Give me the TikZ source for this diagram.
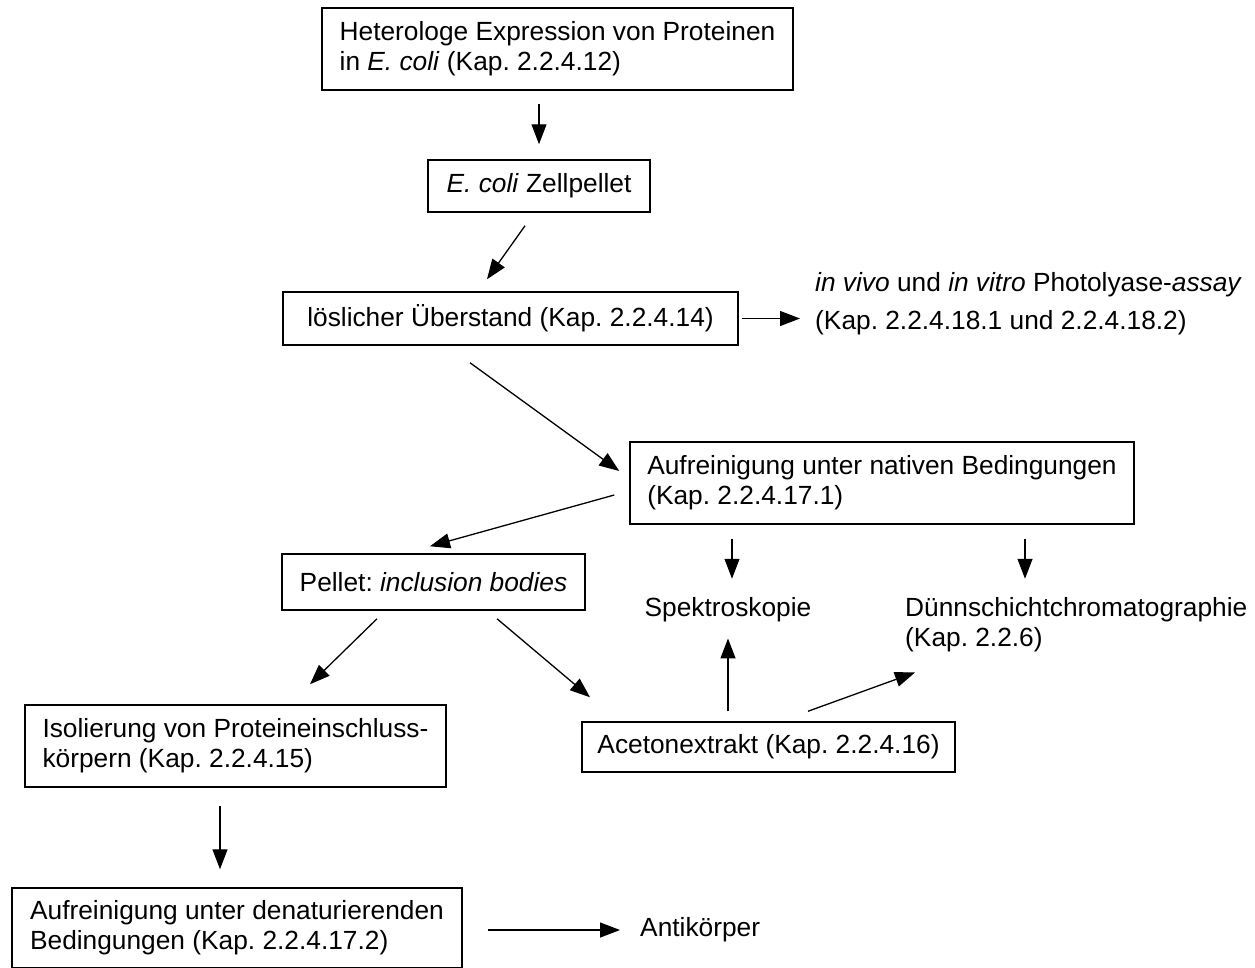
\documentclass[tikz,border=0pt]{standalone}
\usepackage{fontspec}
\setmainfont{Liberation Sans}
\usetikzlibrary{arrows.meta,calc}
\begin{document}
\frenchspacing
\begin{tikzpicture}[x=1pt,y=-1pt,
  box/.style={draw,line width=1.5pt,inner sep=0pt,align=left,font=\fontsize{26.3}{30}\selectfont},
  txt/.style={inner sep=0pt,align=left,font=\fontsize{26.3}{30}\selectfont},
  arr/.style={line width=1.3pt,-{Triangle[length=20pt,width=15pt]}}]
\useasboundingbox (0,0) rectangle (1255,967);
\clip (0,0) rectangle (1255,967);
\node[box,minimum width=471pt,minimum height=82pt] (b1) at (557.5,49) {Heterologe Expression von Proteinen\\in \textit{E. coli} (Kap. 2.2.4.12)};
\node[box,minimum width=222pt,minimum height=52pt] (b2) at (539,186) {\textit{E. coli} Zellpellet};
\node[box,minimum width=455pt,minimum height=53pt] (b3) at (510.5,318.5) {löslicher Überstand (Kap. 2.2.4.14)};
\node[box,minimum width=504pt,minimum height=82pt] (b4) at (882,483) {Aufreinigung unter nativen Bedingungen\\(Kap. 2.2.4.17.1)};
\node[box,minimum width=303pt,minimum height=56pt] (b5) at (433.5,582) {Pellet: \textit{inclusion bodies}};
\node[box,minimum width=421pt,minimum height=82pt] (b6) at (235.5,746) {Isolierung von Proteineinschluss-\\körpern (Kap. 2.2.4.15)};
\node[box,minimum width=373pt,minimum height=50pt] (b7) at (768.5,747) {Acetonextrakt (Kap. 2.2.4.16)};
\node[box,minimum width=450pt,minimum height=80pt] (b8) at (237,928) {Aufreinigung unter denaturierenden\\Bedingungen (Kap. 2.2.4.17.2)};
\node[txt,anchor=west] (photo) at (815,304) {\textit{in vivo} und \textit{in vitro} Photolyase-\textit{assay}\\[8pt](Kap. 2.2.4.18.1 und 2.2.4.18.2)};
\node[txt] (spek) at (728,610) {Spektroskopie};
\node[txt,anchor=west] (dc) at (905,625) {Dünnschichtchromatographie\\(Kap. 2.2.6)};
\node[txt,anchor=west] (anti) at (640,930) {Antikörper};
% connectors
\draw[arr,shorten <=13pt,shorten >=15pt] (b1.south -| b2.north) -- (b2.north);
\draw[arr] ($(b2.south)+(-14,13)$) -- ($(b3.north)+(-23.5,-12)$);
\draw[arr,shorten <=3pt,shorten >=15pt] (b3.east) -- (b3.east -| photo.west);
\draw[arr] ($(b3.south)+(-40.5,17)$) -- ($(b4.west)+(-10,-12)$);
\draw[arr] ($(b4.west)+(-15,12)$) -- ($(b5.north)+(-3.5,-7)$);
\draw[arr] ($(b4.south)+(-150,14)$) -- ($(b4.south)+(-150,54)$);
\draw[arr] ($(b4.south)+(143,14)$) -- ($(b4.south)+(143,54)$);
\draw[arr] ($(b5.south)+(-56.5,8)$) -- ($(b6.north)+(74.5,-20)$);
\draw[arr] ($(b5.south)+(63.5,8)$) -- ($(b7.north)+(-178.5,-24)$);
\draw[arr,shorten <=10pt,shorten >=16pt] (b7.north -| spek.south) -- (spek.south);
\draw[arr] ($(b7.north)+(39.5,-10)$) -- ($(dc.south west)+(10,20)$);
\draw[arr] ($(b6.south)+(-15.5,18)$) -- ($(b8.north)+(-17,-18)$);
\draw[arr,shorten <=25pt,shorten >=20pt] (b8.east |- anti.west) -- (anti.west);
\end{tikzpicture}
\end{document}
